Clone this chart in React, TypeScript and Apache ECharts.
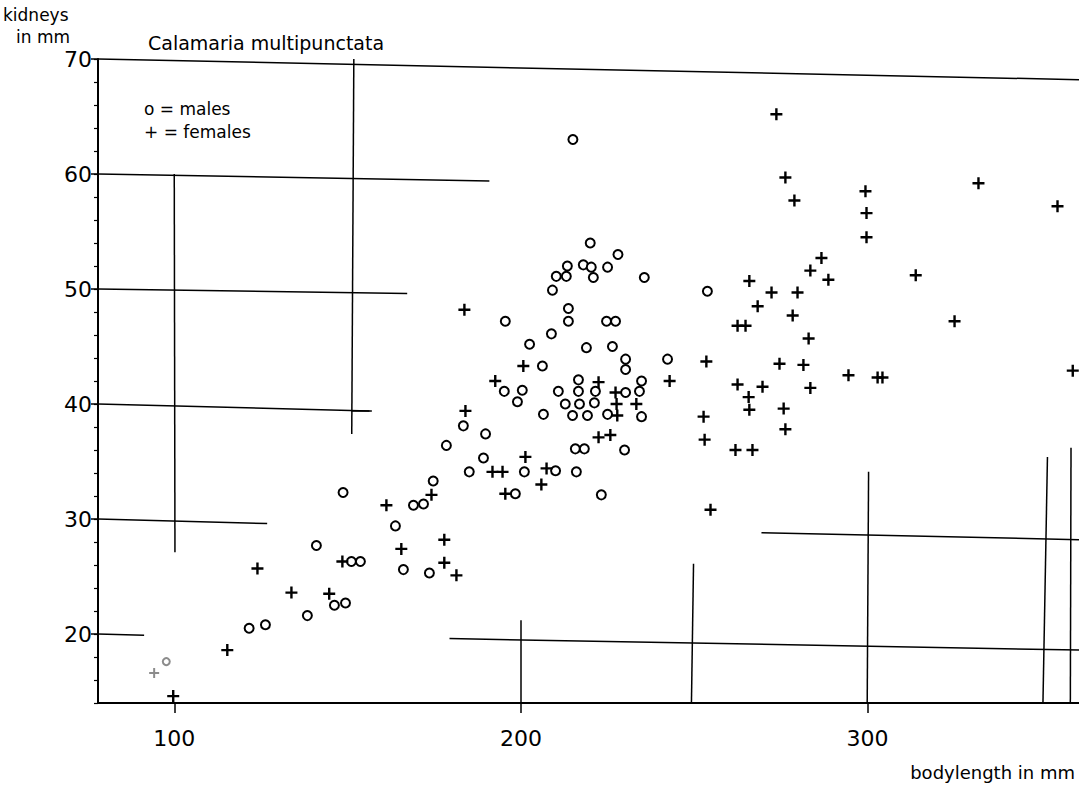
import React, { useEffect, useRef } from "react";
import * as echarts from "echarts";

// Body length (mm) vs. kidney length (mm), Calamaria multipunctata
const males: [number, number][] = [
  [215, 63.0], [220, 54.0], [228, 53.0], [213.4, 52.0], [218, 52.1], [220.3, 51.9],
  [225, 51.9], [210.2, 51.1], [213.1, 51.1], [220.9, 51.0], [235.6, 51.0], [209.1, 49.9],
  [213.7, 48.3], [195.5, 47.2], [213.7, 47.2], [224.7, 47.2], [227.3, 47.2], [208.8, 46.1],
  [202.5, 45.2], [218.9, 44.9], [226.4, 45.0], [230.2, 43.9], [242.3, 43.9], [230.2, 43.0],
  [206.2, 43.3], [216.6, 42.1], [234.8, 42.0], [195.2, 41.1], [200.4, 41.2], [210.8, 41.1],
  [216.6, 41.1], [221.5, 41.1], [230.2, 41.0], [234.2, 41.1], [199.0, 40.2], [212.8, 40.0],
  [216.9, 40.0], [221.2, 40.1], [206.5, 39.1], [214.9, 39.0], [219.2, 39.0], [225.0, 39.1],
  [234.8, 38.9], [183.4, 38.1], [189.8, 37.4], [178.5, 36.4], [215.7, 36.1], [218.3, 36.1],
  [229.9, 36.0], [189.2, 35.3], [185.1, 34.1], [201.0, 34.1], [210.0, 34.2], [216.0, 34.1],
  [174.7, 33.3], [198.4, 32.2], [223.2, 32.1], [148.7, 32.3], [169.0, 31.2], [171.9, 31.3],
  [163.8, 29.4], [141.0, 27.7], [151.1, 26.3], [153.7, 26.3], [166.1, 25.6], [173.6, 25.3],
  [146.2, 22.5], [149.4, 22.7], [138.4, 21.6], [121.6, 20.5], [126.3, 20.8], [253.8, 49.8],
];

const females: [number, number][] = [
  [183.7, 48.2], [200.7, 43.3], [192.6, 42.0], [222.4, 41.9], [242.9, 42.0], [227.3, 41.0],
  [227.6, 40.0], [233.3, 40.0], [184.0, 39.4], [227.8, 39.0], [222.4, 37.1], [225.8, 37.3],
  [201.3, 35.4], [191.8, 34.1], [194.7, 34.1], [207.4, 34.4], [205.9, 33.0], [174.2, 32.1],
  [195.5, 32.2], [161.2, 31.2], [148.5, 26.3], [177.9, 28.2], [165.5, 27.4], [177.9, 26.2],
  [181.4, 25.1], [124.0, 25.7], [133.8, 23.6], [144.7, 23.5], [115.3, 18.6], [99.7, 14.6],
  [273.7, 65.2], [276.3, 59.7], [278.9, 57.7], [299.4, 58.5], [299.7, 56.6], [299.7, 54.5],
  [332.0, 59.2], [354.8, 57.2], [286.7, 52.7], [283.5, 51.6], [288.7, 50.8], [313.9, 51.2],
  [265.9, 50.7], [272.3, 49.7], [279.8, 49.7], [268.3, 48.5], [278.4, 47.7], [262.5, 46.8],
  [264.8, 46.8], [325.1, 47.2], [283.0, 45.7], [253.5, 43.7], [274.6, 43.5], [281.5, 43.4],
  [262.5, 41.7], [269.7, 41.5], [283.5, 41.4], [294.5, 42.5], [302.9, 42.3], [304.3, 42.3],
  [359.2, 42.9], [265.7, 40.6], [265.9, 39.5], [275.8, 39.6], [252.7, 38.9], [276.3, 37.8],
  [253.0, 36.9], [261.9, 36.0], [266.8, 36.0], [254.7, 30.8],
];

// barely legible specimens near the origin
const faintMales: [number, number][] = [[97.7, 17.6]];
const faintFemales: [number, number][] = [[94.2, 16.6]];

const xTicks = [100, 200, 300];
const yTicks = [20, 30, 40, 50, 60, 70];

// ruled lines of the graph sheet, in data units: [[x1, y1], [x2, y2]]
const paperLines: [number, number][][] = [
  [[78, 70], [361, 68.2]],
  [[78, 60], [190.9, 59.4]],
  [[78, 50], [167.2, 49.6]],
  [[78, 40], [156.3, 39.4]],
  [[78, 30], [126.8, 29.6]],
  [[78, 20], [91.3, 19.9]],
  [[100, 60], [100.2, 27.1]],
  [[151.8, 70], [151.2, 37.4]],
  [[151.2, 39.4], [157, 39.4]],
  [[200, 21.2], [200, 14]],
  [[179.4, 19.6], [361, 18.6]],
  [[249.8, 26.1], [249.2, 14]],
  [[300.3, 34.1], [299.9, 14]],
  [[269.4, 28.8], [361, 28.2]],
  [[351.9, 35.4], [350.6, 14]],
  [[358.7, 36.2], [358.5, 14]],
];

const FONT = "'DejaVu Sans', 'Open Sans', sans-serif";
const PLUS = "path://M4,0H6V4H10V6H6V10H4V6H0V4H4Z";

export default function App() {
  const ref = useRef<HTMLDivElement>(null);

  useEffect(() => {
    if (!ref.current) return;
    const chart = echarts.init(ref.current, undefined, { renderer: "svg" });
    chart.setOption({
      animation: false,
      backgroundColor: "#fff",
      grid: { left: 98, right: 0, top: 59, bottom: 84 },
      xAxis: {
        type: "value",
        min: 78,
        max: 361,
        splitLine: { show: false },
        axisLine: { show: true, lineStyle: { color: "#000", width: 2 } },
        axisTick: { show: true, customValues: xTicks, length: 10, lineStyle: { color: "#000", width: 1.5 } },
        axisLabel: { customValues: xTicks, color: "#000", fontSize: 22, fontFamily: FONT, margin: 24 },
      },
      yAxis: [
        {
          type: "value",
          min: 14,
          max: 70,
          splitLine: { show: false },
          axisLine: { show: true, lineStyle: { color: "#000", width: 2 } },
          axisTick: { show: true, customValues: yTicks, length: 7, lineStyle: { color: "#000", width: 1.5 } },
          axisLabel: { customValues: yTicks, color: "#000", fontSize: 22, fontFamily: FONT, margin: 6 },
        },
        {
          type: "value",
          position: "left",
          min: 14,
          max: 70,
          interval: 2,
          splitLine: { show: false },
          axisLine: { show: false },
          axisTick: { show: true, length: 4, lineStyle: { color: "#000", width: 1.2 } },
          axisLabel: { show: false },
        },
      ],
      graphic: [
        { type: "text", left: 3, top: 6, style: { text: "kidneys", font: `17px ${FONT}`, fill: "#000" } },
        { type: "text", left: 16, top: 28, style: { text: "in mm", font: `17px ${FONT}`, fill: "#000" } },
        { type: "text", left: 148, top: 33, style: { text: "Calamaria multipunctata", font: `19px ${FONT}`, fill: "#000" } },
        { type: "text", left: 144, top: 100, style: { text: "o = males", font: `17px ${FONT}`, fill: "#000" } },
        { type: "text", left: 144, top: 123, style: { text: "+ = females", font: `17px ${FONT}`, fill: "#000" } },
        { type: "text", right: 4, top: 763, style: { text: "bodylength in mm", font: `18px ${FONT}`, fill: "#000" } },
      ],
      series: [
        {
          name: "sheet",
          type: "scatter",
          data: [],
          silent: true,
          markLine: {
            silent: true,
            symbol: ["none", "none"],
            label: { show: false },
            lineStyle: { type: "solid", color: "#000", width: 1.5, opacity: 1 },
            data: paperLines.map(([a, b]) => [{ coord: a }, { coord: b }]),
          },
        },
        {
          name: "males",
          type: "scatter",
          data: males,
          symbol: "emptyCircle",
          symbolSize: 9,
          itemStyle: { color: "#000", borderColor: "#000", borderWidth: 2.2, opacity: 1 },
        },
        {
          name: "females",
          type: "scatter",
          data: females,
          symbol: PLUS,
          symbolSize: 12,
          itemStyle: { color: "#000", opacity: 1 },
        },
        {
          name: "males (faint)",
          type: "scatter",
          data: faintMales,
          symbol: "emptyCircle",
          symbolSize: 7,
          itemStyle: { color: "#000", borderColor: "#000", borderWidth: 1.5, opacity: 0.45 },
        },
        {
          name: "females (faint)",
          type: "scatter",
          data: faintFemales,
          symbol: PLUS,
          symbolSize: 10,
          itemStyle: { color: "#000", opacity: 0.45 },
        },
      ],
    });
    return () => chart.dispose();
  }, []);

  return (
    <div
      ref={ref}
      style={{ position: "fixed", left: 0, top: 0, width: 1079, height: 787, background: "#fff" }}
    />
  );
}
